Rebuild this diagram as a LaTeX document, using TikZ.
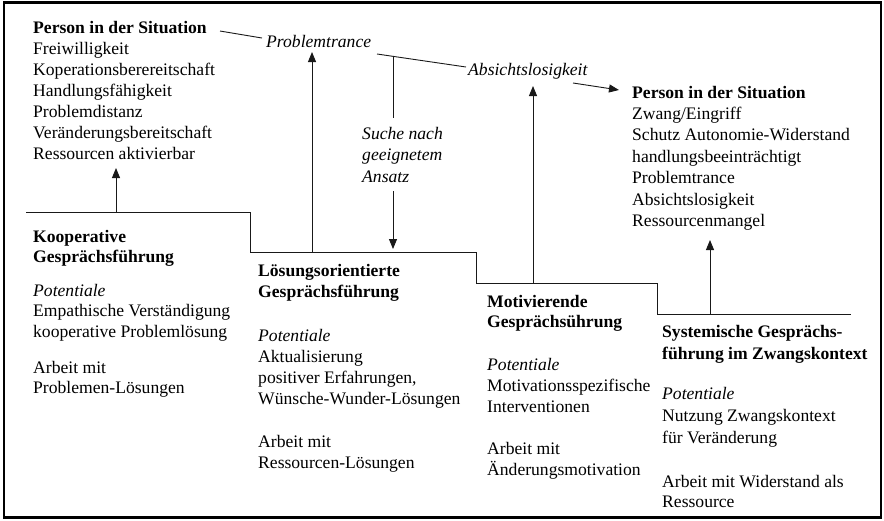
\documentclass[tikz,border=0pt]{standalone}
\usepackage{fontspec}
\setmainfont{Liberation Serif}
\usetikzlibrary{arrows.meta}
\begin{document}
\begin{tikzpicture}[x=1pt,y=-1pt,
  % multi-line nodes are placed by the baseline of their last line
  txt/.style={inner sep=0pt, anchor=base west, align=left,
    font=\fontsize{17.6}{21}\selectfont},
  itx/.style={txt, font=\fontsize{17.6}{21.5}\selectfont\itshape},
  conn/.style={line width=0.9pt, draw=black!90},
  arr/.style={conn, -{Triangle[length=10pt,width=8pt]}},
  frame/.style={line width=2.6pt}]
\useasboundingbox (0,0) rectangle (884,520);
\draw[frame] (4,2.5) rectangle (881,517.5);

% upper text blocks
\node[txt] (sitA) at (33,159) {\textbf{Person in der Situation}\\
  Freiwilligkeit\\Koperationsberereitschaft\\Handlungsfähigkeit\\
  Problemdistanz\\Veränderungsbereitschaft\\Ressourcen aktivierbar};
\node[itx] (trance) at (266,47) {Problemtrance};
\node[itx] (absicht) at (468,75) {Absichtslosigkeit};
\node[itx] (suche) at (362,182) {Suche nach\\geeignetem\\Ansatz};
\node[txt, font=\fontsize{17.6}{21.4}\selectfont] (sitB) at (632,226.4)
  {\textbf{Person in der Situation}\\Zwang/Eingriff\\
  Schutz Autonomie-Widerstand\\handlungsbeeinträchtigt\\
  Problemtrance\\Absichtslosigkeit\\Ressourcenmangel};

% the four approaches
\node[txt, font=\fontsize{17.6}{20.5}\selectfont\bfseries] (kooH) at (33,262.5)
  {Kooperative\\Gesprächsführung};
\node[txt, font=\fontsize{17.6}{20.5}\selectfont] (kooP) at (33,337)
  {\textit{Potentiale}\\Empathische Verständigung\\kooperative Problemlösung};
\node[txt, font=\fontsize{17.6}{20.5}\selectfont] (kooA) at (33,393.5)
  {Arbeit mit\\Problemen-Lösungen};

\node[txt, font=\fontsize{17.6}{21}\selectfont\bfseries] (loeH) at (258,297)
  {Lösungsorientierte\\Gesprächsführung};
\node[txt] (loeP) at (258,404)
  {\textit{Potentiale}\\Aktualisierung\\positiver Erfahrungen,\\Wünsche-Wunder-Lösungen};
\node[txt] (loeA) at (258,468)
  {Arbeit mit\\Ressourcen-Lösungen};

\node[txt, font=\fontsize{17.6}{20.5}\selectfont\bfseries] (motH) at (487,327.5)
  {Motivierende\\Gesprächsührung};
\node[txt] (motP) at (487,412)
  {\textit{Potentiale}\\Motivationsspezifische\\Interventionen};
\node[txt] (motA) at (487,475)
  {Arbeit mit\\Änderungsmotivation};

\node[txt, font=\fontsize{17.6}{22}\selectfont\bfseries] (sysH) at (662,359)
  {Systemische Gesprächs-\\führung im Zwangskontext};
\node[txt, font=\fontsize{17.6}{22}\selectfont] (sysP) at (662,443)
  {\textit{Potentiale}\\Nutzung Zwangskontext\\für Veränderung};
\node[txt, font=\fontsize{17.6}{20}\selectfont] (sysA) at (662,507)
  {Arbeit mit Widerstand als\\Ressource};

% staircase
\coordinate (s0) at (26,212);
\coordinate (s1) at (250,252);
\coordinate (s2) at (476,283);
\coordinate (s3) at (657,314);
\coordinate (s4) at (851,314);
\draw[conn] (s0) -| (s1) -| (s2) -| (s3) -- (s4);

% arrows rising from the steps
\coordinate (b1) at (116,212);  \coordinate (t1) at (116,168);
\coordinate (b2) at (312,252);  \coordinate (t2) at (312,52);
\coordinate (b3) at (533,283);  \coordinate (t3) at (533,86);
\coordinate (b4) at (710,314);  \coordinate (t4) at (710,240);
\draw[arr] (b1) -- (t1);
\draw[arr] (b2) -- (t2);
\draw[arr] (b3) -- (t3);
\draw[arr] (b4) -- (t4);

% path of the person through the situation
\coordinate (p1) at (220,31);   \coordinate (p2) at (262,38);
\coordinate (p3) at (377,54);   \coordinate (p4) at (466,67);
\coordinate (p5) at (573,83);   \coordinate (p6) at (619,90);
\draw[conn] (p1) -- (p2);
\draw[conn] (p3) -- (p4);
\draw[arr] (p5) -- (p6);

% search for a suitable approach
\coordinate (q1) at (393,56.5); \coordinate (q2) at (393,118);
\coordinate (q3) at (393,191);  \coordinate (q4) at (393,249);
\draw[conn] (q1) -- (q2);
\draw[arr] (q3) -- (q4);
\end{tikzpicture}
\end{document}
